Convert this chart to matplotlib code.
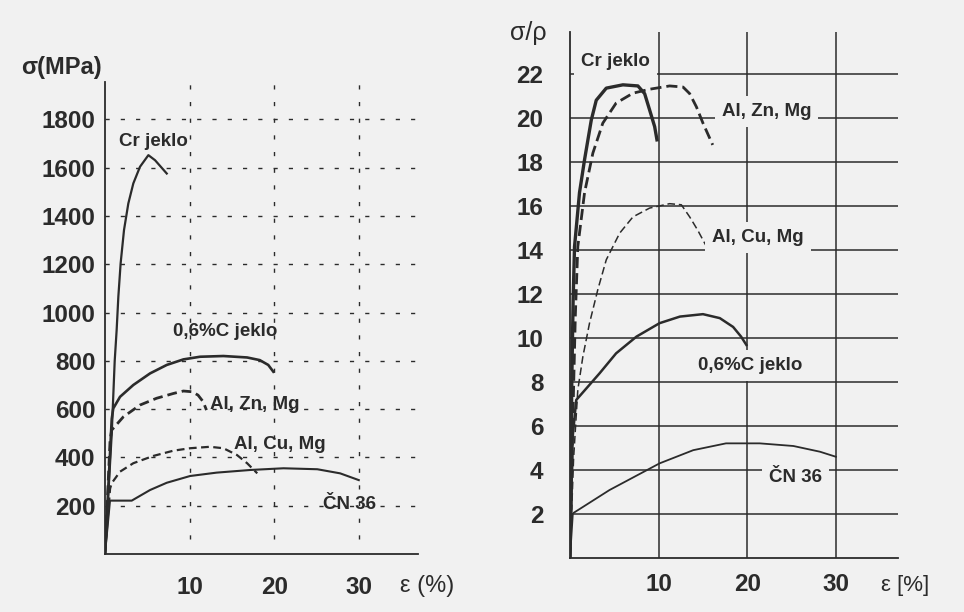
import matplotlib.pyplot as plt

plt.rcParams['font.family'] = ['Liberation Sans', 'DejaVu Sans']

bg = '#f1f1f1'
ink = '#2b2b2b'

# --- left panel: sigma (MPa) vs strain (%) ---
cr_eps = [0, 0.8, 1.15, 1.38, 1.58, 1.85, 2.25, 2.76, 3.35, 4.14, 5.13, 5.92, 7.3]
cr_sig = [0, 500, 800, 928, 1066, 1204, 1342, 1452, 1535, 1604, 1652, 1631, 1576]

c06_eps = [0, 0.8, 0.98, 1.78, 3.35, 5.33, 7.3, 9.27, 11.24, 14.0, 16.8, 18.3, 19.3, 19.9]
c06_sig = [0, 560, 603, 651, 700, 748, 783, 806, 817, 820, 814, 803, 783, 755]

znmg_eps = [0, 0.6, 0.79, 2.17, 4.14, 6.1, 8.1, 9.27, 10.3, 11.0, 11.6, 12.0]
znmg_sig = [0, 470, 513, 568, 617, 645, 665, 675, 672, 658, 631, 596]

cumg_eps = [0, 0.6, 0.79, 1.78, 3.35, 5.7, 8.1, 10.06, 12.4, 14.0, 15.6, 16.8, 18.0]
cumg_sig = [0, 270, 293, 341, 376, 406, 428, 438, 444, 438, 410, 376, 334]

cn_eps = [0, 0.59, 3.16, 5.33, 7.3, 10.06, 13.2, 17.2, 21.1, 25.1, 27.8, 30.0]
cn_sig = [0, 221, 221, 265, 295, 323, 337, 348, 355, 351, 334, 306]

left_yticks = [200, 400, 600, 800, 1000, 1200, 1400, 1600, 1800]
xticks = [10, 20, 30]

# --- right panel: specific strength sigma/rho vs strain (%) ---
cr_eps_r = [0, 0.2, 0.35, 0.51, 1.07, 1.64, 2.4, 2.96, 4.09, 5.97, 7.66, 8.42, 8.98, 9.55, 9.81]
cr_sr = [0, 8, 11.7, 14.15, 16.6, 18.1, 19.9, 20.8, 21.35, 21.5, 21.45, 21.1, 20.36, 19.6, 19.0]

znmg_eps_r = [0, 0.3, 0.6, 0.88, 1.64, 2.58, 3.7, 5.2, 7.1, 8.98, 11.24, 12.75, 13.5, 14.26, 15.0, 16.1]
znmg_sr = [0, 6, 11, 14.15, 16.6, 18.4, 19.76, 20.67, 21.12, 21.3, 21.45, 21.4, 21.1, 20.5, 19.76, 18.77]

cumg_eps_r = [0, 0.4, 0.88, 1.45, 2.2, 3.14, 4.09, 5.6, 7.1, 8.98, 11.24, 12.56, 13.5, 14.4, 15.4]
cumg_sr = [0, 4.5, 7.64, 9.15, 10.67, 12.2, 13.55, 14.76, 15.5, 15.9, 16.1, 16.05, 15.5, 14.9, 14.15]

c06_eps_r = [0, 0.3, 0.7, 1.83, 3.33, 5.2, 7.5, 10.1, 12.4, 15.0, 16.9, 18.4, 19.3, 19.9]
c06_sr = [0, 5.5, 7.18, 7.7, 8.39, 9.3, 10.06, 10.67, 10.97, 11.08, 10.9, 10.5, 10.06, 9.68]

cn_eps_r = [0, 0.32, 4.46, 10.1, 13.9, 17.6, 21.4, 25.2, 28.2, 30.0]
cn_sr = [0, 2.03, 3.09, 4.3, 4.9, 5.21, 5.21, 5.09, 4.83, 4.6]

right_yticks = [2, 4, 6, 8, 10, 12, 14, 16, 18, 20, 22]

fig = plt.figure(figsize=(9.64, 6.12), dpi=100, facecolor=bg)

# left
ax1 = fig.add_axes([0.1089, 0.0948, 0.3247, 0.7712])
ax1.set_facecolor(bg)
ax1.set_xlim(0, 37)
ax1.set_ylim(0, 1955)
for y in left_yticks:
    ax1.plot([0, 37], [y, y], color=ink, lw=1, ls=(0, (3, 8)), zorder=1)
for x in xticks:
    ax1.plot([x, x], [60, 1955], color=ink, lw=1, ls=(0, (3, 9)), zorder=1)

ax1.plot(cr_eps, cr_sig, color=ink, lw=1.6)
ax1.plot(c06_eps, c06_sig, color=ink, lw=1.9)
ax1.plot(znmg_eps, znmg_sig, color=ink, lw=2.0, ls=(0, (3.5, 1.8)))
ax1.plot(cumg_eps, cumg_sig, color=ink, lw=1.6, ls=(0, (3.5, 2)))
ax1.plot(cn_eps, cn_sig, color=ink, lw=1.5)

ax1.set_xticks(xticks)
ax1.set_yticks(left_yticks)
ax1.tick_params(length=0, labelsize=17.5, colors=ink)
ax1.tick_params(axis='x', pad=16)
ax1.tick_params(axis='y', pad=7)
for lab in ax1.get_xticklabels() + ax1.get_yticklabels():
    lab.set_fontweight('bold')
for s in ['top', 'right']:
    ax1.spines[s].set_visible(False)
for s in ['left', 'bottom']:
    ax1.spines[s].set_color(ink)
    ax1.spines[s].set_linewidth(1.3)

lab_kw = dict(fontsize=13.5, fontweight='bold', color=ink, ha='center', va='center')
ax1.text(5.7, 1710, 'Cr jeklo', **lab_kw)
ax1.text(14.2, 923, '0,6%C jeklo', **lab_kw)
ax1.text(17.75, 621, 'Al, Zn, Mg', **lab_kw)
ax1.text(20.7, 455, 'Al, Cu, Mg', **lab_kw)
ax1.text(28.9, 203, 'ČN 36', **lab_kw)
fig.text(0.0633, 0.889, 'σ(MPa)', fontsize=17, fontweight='bold', color=ink,
         ha='center', va='center')
fig.text(0.443, 0.0425, 'ε (%)', fontsize=17, color=ink, ha='center', va='center')

# right
ax2 = fig.add_axes([0.5913, 0.0882, 0.3402, 0.8595])
ax2.set_facecolor(bg)
ax2.set_xlim(0, 37)
ax2.set_ylim(0, 23.9)
for y in right_yticks:
    ax2.plot([0, 37], [y, y], color=ink, lw=1.1, zorder=1)
for x in xticks:
    ax2.plot([x, x], [0, 23.9], color=ink, lw=1.1, zorder=1)

ax2.plot(cr_eps_r, cr_sr, color=ink, lw=2.4, zorder=3)
ax2.plot(znmg_eps_r, znmg_sr, color=ink, lw=2.0, ls=(0, (4, 1.8)), zorder=3)
ax2.plot(cumg_eps_r, cumg_sr, color=ink, lw=1.1, ls=(0, (5, 2.5)), zorder=3)
ax2.plot(c06_eps_r, c06_sr, color=ink, lw=1.8, zorder=3)
ax2.plot(cn_eps_r, cn_sr, color=ink, lw=1.3, zorder=3)

ax2.set_xticks(xticks)
ax2.set_yticks(right_yticks)
ax2.tick_params(length=0, labelsize=17.5, colors=ink)
ax2.tick_params(axis='x', pad=11)
ax2.tick_params(axis='y', pad=19)
for lab in ax2.get_xticklabels() + ax2.get_yticklabels():
    lab.set_fontweight('bold')
for s in ['top', 'right']:
    ax2.spines[s].set_visible(False)
for s in ['left', 'bottom']:
    ax2.spines[s].set_color(ink)
    ax2.spines[s].set_linewidth(1.3)

box = dict(facecolor=bg, edgecolor='none', pad=5)
ax2.text(5.1, 22.55, 'Cr jeklo', bbox=box, zorder=4, **lab_kw)
ax2.text(22.2, 20.3, 'Al, Zn, Mg', bbox=box, zorder=4, **lab_kw)
ax2.text(21.2, 14.55, 'Al, Cu, Mg', bbox=box, zorder=4, **lab_kw)
ax2.text(20.3, 8.73, '0,6%C jeklo', bbox=box, zorder=4, **lab_kw)
ax2.text(25.4, 3.64, 'ČN 36', bbox=box, zorder=4, **lab_kw)
fig.text(0.548, 0.946, 'σ/ρ', fontsize=18, color=ink, ha='center', va='center')
fig.text(0.939, 0.0425, 'ε [%]', fontsize=16, color=ink, ha='center', va='center')

fig.savefig('out.png', dpi=100, facecolor=bg)
